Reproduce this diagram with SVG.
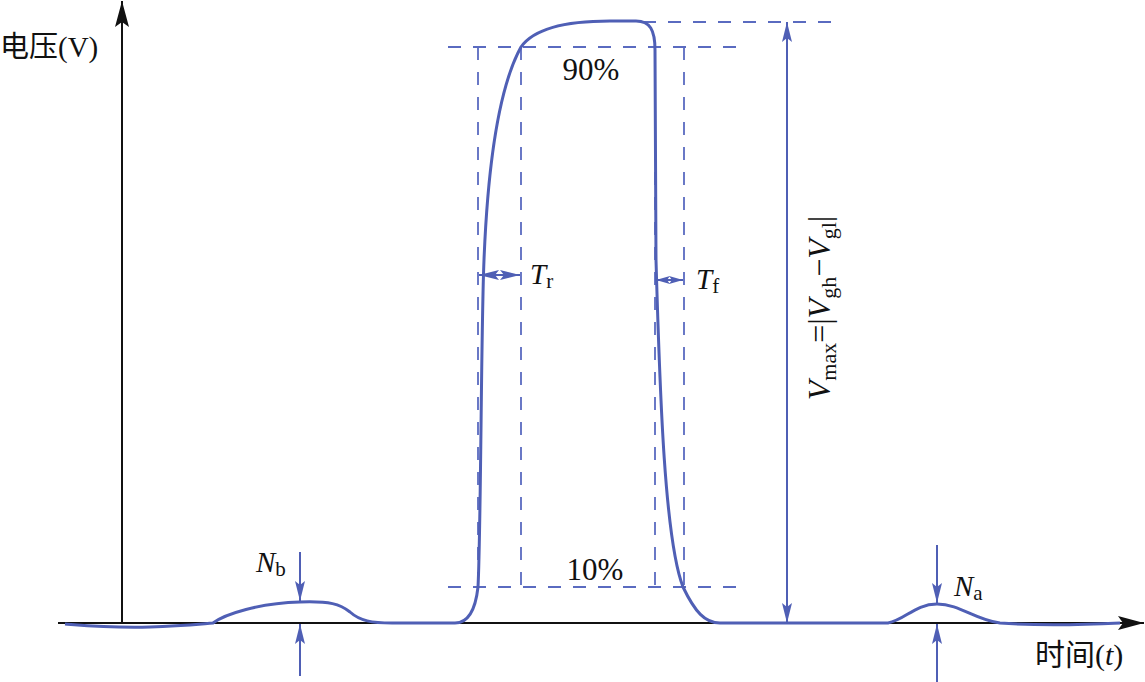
<svg xmlns="http://www.w3.org/2000/svg" width="1145" height="682" viewBox="0 0 1145 682">
<style>
.t{font-family:"Liberation Serif","Noto Sans CJK SC",serif;fill:#111}
.i{font-style:italic}
.dash{stroke:#5a6bc0;stroke-width:1.8;stroke-dasharray:13 12;fill:none}
.bl{stroke:#4f5fb5;stroke-width:2;fill:none}
.curve{stroke:#4f5fb5;stroke-width:3;fill:none;stroke-linejoin:round}
.ax{stroke:#111;stroke-width:2;fill:none}
</style>
<defs>
<marker id="ah" viewBox="0 0 20 10" refX="20" refY="5" markerWidth="20" markerHeight="10" markerUnits="userSpaceOnUse" orient="auto-start-reverse"><path d="M0,0 L20,5 L0,10 L4,5 Z" fill="#4f5fb5"/></marker>
<marker id="ahs" viewBox="0 0 14 8" refX="14" refY="4" markerWidth="14" markerHeight="8" markerUnits="userSpaceOnUse" orient="auto-start-reverse"><path d="M0,0 L14,4 L0,8 L3,4 Z" fill="#4f5fb5"/></marker>
<marker id="ak" viewBox="0 0 26 14" refX="26" refY="7" markerWidth="26" markerHeight="14" markerUnits="userSpaceOnUse" orient="auto"><path d="M0,0 L26,7 L0,14 L5,7 Z" fill="#111"/></marker>
</defs>
<g id="axes">
<line class="ax" x1="122" y1="623" x2="122" y2="1" marker-end="url(#ak)"/>
<line class="ax" x1="58" y1="623" x2="1144" y2="623" marker-end="url(#ak)"/>
<text class="t" x="0" y="57" font-size="29">电压(V)</text>
<text class="t" x="1035" y="665" font-size="30">时间(<tspan class="i">t</tspan>)</text>
</g>
<g id="guides">
<line class="dash" x1="448" y1="47" x2="748" y2="47"/>
<line class="dash" x1="643" y1="22" x2="840" y2="22"/>
<line class="dash" x1="448" y1="587" x2="742" y2="587"/>
<line class="dash" x1="478" y1="47" x2="478" y2="587"/>
<line class="dash" x1="521" y1="47" x2="521" y2="587"/>
<line class="dash" x1="655" y1="47" x2="655" y2="587"/>
<line class="dash" x1="684" y1="47" x2="684" y2="587"/>
<text class="t" x="591" y="80" font-size="31" text-anchor="middle">90%</text>
<text class="t" x="595" y="580" font-size="31" text-anchor="middle">10%</text>
</g>
<g id="signal">
<path class="curve" d="M65 624 C90 626,110 628,150 627 C180 626,200 624,213 623 C225 614,260 603,300 602 C330 601,340 604,350 612 C360 621,372 623,392 623 L455 623 C470 623,476 605,478 587 C481 530,481 330,484 260 C488 160,500 85,521 47 C535 27,570 21,610 21 L636 21 C650 21,655 30,655 50 L656 260 C660 400,665 540,683 587 C695 612,705 623,720 623 L888 623 C905 620,915 604,937 604 C960 604,975 620,1000 623 C1040 626,1080 625,1120 623"/>
</g>
<g id="connectors">
<line class="bl" x1="787" y1="623" x2="787" y2="22" marker-start="url(#ah)" marker-end="url(#ah)"/>
<line class="bl" x1="479" y1="275" x2="520" y2="275" marker-start="url(#ah)" marker-end="url(#ah)"/>
<line class="bl" x1="656" y1="280" x2="683" y2="280" marker-start="url(#ahs)" marker-end="url(#ahs)"/>
<line class="bl" x1="300" y1="552" x2="300" y2="601" marker-end="url(#ah)"/>
<line class="bl" x1="300" y1="676" x2="300" y2="624" marker-end="url(#ah)"/>
<line class="bl" x1="937" y1="545" x2="937" y2="603" marker-end="url(#ah)"/>
<line class="bl" x1="937" y1="682" x2="937" y2="624" marker-end="url(#ah)"/>
</g>
<g id="labels">
<text class="t" x="530" y="284" font-size="29"><tspan class="i">T</tspan><tspan font-size="21" dy="4">r</tspan></text>
<text class="t" x="696" y="289" font-size="29"><tspan class="i">T</tspan><tspan font-size="21" dy="4">f</tspan></text>
<text class="t" x="256" y="572" font-size="29"><tspan class="i">N</tspan><tspan font-size="21" dy="4">b</tspan></text>
<text class="t" x="954" y="596" font-size="29"><tspan class="i">N</tspan><tspan font-size="21" dy="4">a</tspan></text>
<text class="t" font-size="32" text-anchor="middle" transform="translate(830,308) rotate(-90)"><tspan class="i">V</tspan><tspan font-size="22" dy="6">max</tspan><tspan dy="-6">=|</tspan><tspan class="i">V</tspan><tspan font-size="22" dy="6">gh</tspan><tspan dy="-6">−</tspan><tspan class="i">V</tspan><tspan font-size="22" dy="6">gl</tspan><tspan dy="-6">|</tspan></text>
</g>
</svg>
